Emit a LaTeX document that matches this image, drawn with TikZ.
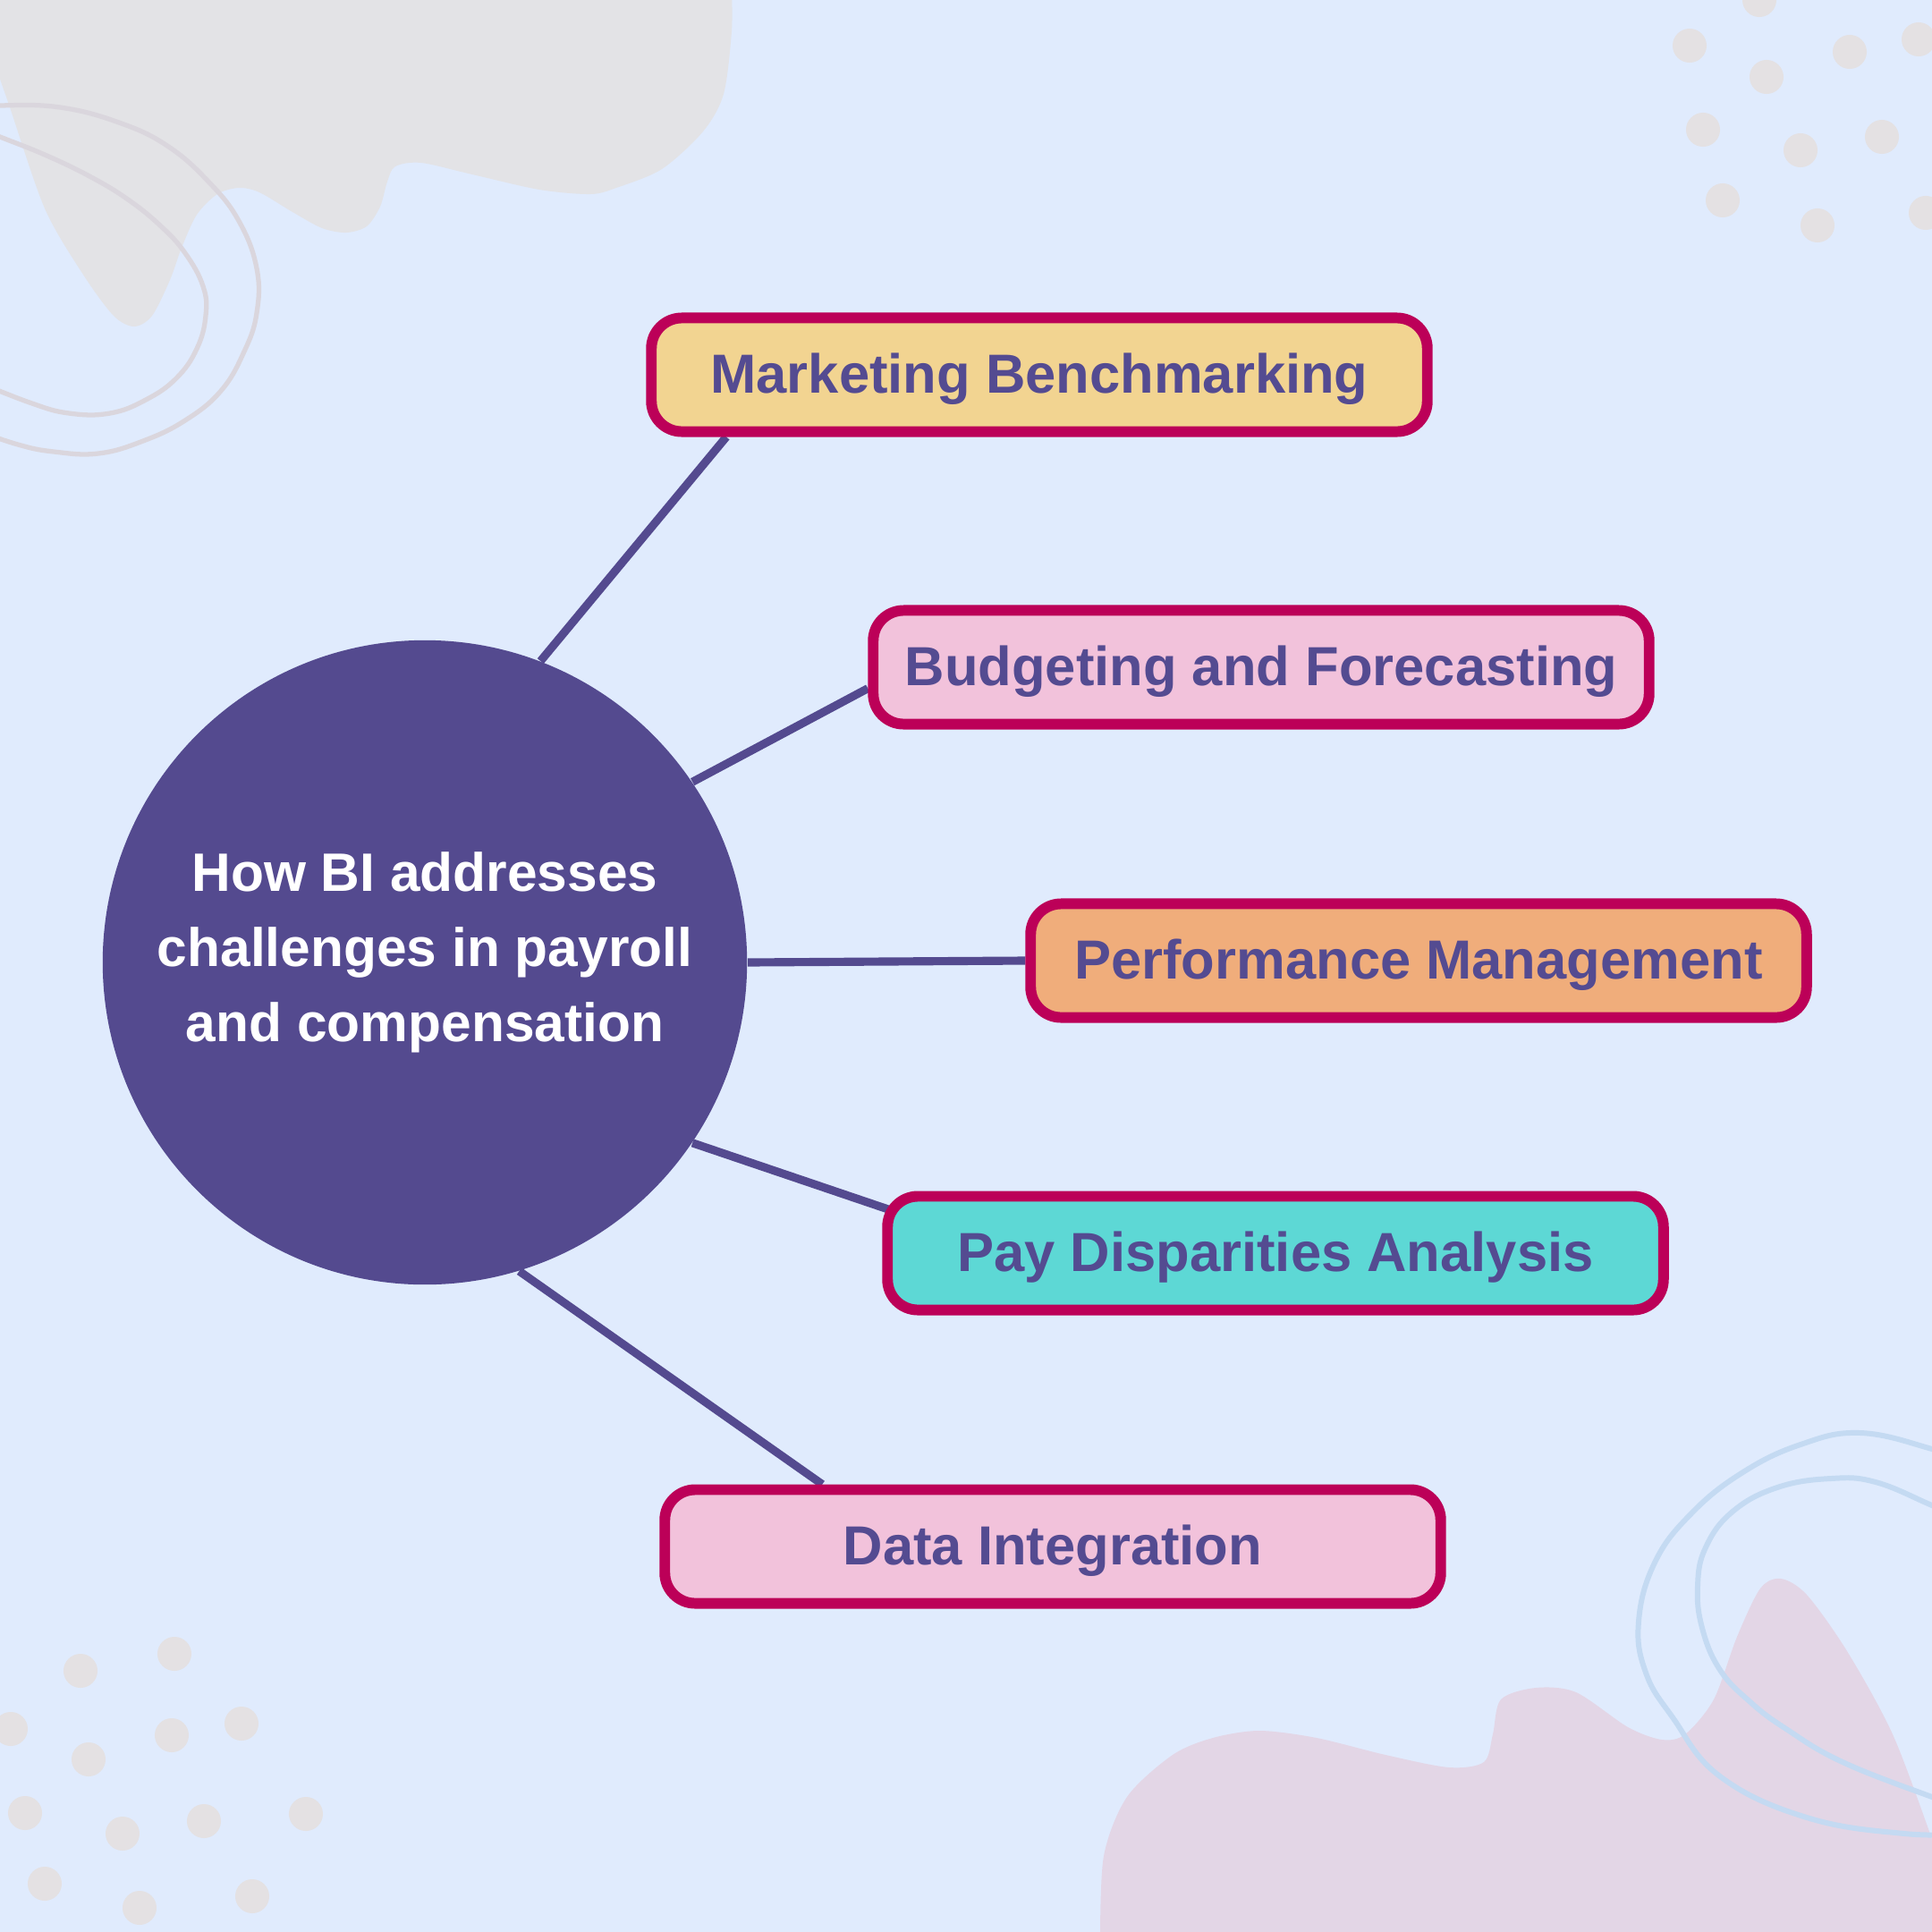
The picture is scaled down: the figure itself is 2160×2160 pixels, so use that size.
\documentclass[tikz,border=0pt]{standalone}
\usepackage{fontspec}
\setmainfont{Liberation Sans}
\usetikzlibrary{calc}
\definecolor{bgc}{HTML}{E0EBFD}
\definecolor{blobgrey}{HTML}{E3E3E6}
\definecolor{dotc}{HTML}{E4E1E3}
\definecolor{ringgrey}{HTML}{DAD6DD}
\definecolor{blobpink}{HTML}{E3D6E6}
\definecolor{ringblue}{HTML}{C4DAF2}
\definecolor{purp}{HTML}{544A8F}
\definecolor{bordc}{HTML}{BC0058}
\definecolor{txtc}{HTML}{544B91}
\definecolor{fyellow}{HTML}{F2D491}
\definecolor{fpink}{HTML}{F2C2DB}
\definecolor{forange}{HTML}{F0AD7B}
\definecolor{fteal}{HTML}{5DD8D5}
\pgfdeclarelayer{bg}
\pgfdeclarelayer{edges}
\pgfsetlayers{bg,edges,main}
\begin{document}
\begin{tikzpicture}[x=0.01cm,y=-0.01cm,
  topic/.style={draw=bordc, line width=3.4pt, rounded corners=0.34cm,
    minimum width=8.67cm, minimum height=1.27cm, inner sep=0pt, text=txtc,
    text height=14pt, text depth=2.6pt,
    font=\fontsize{17.5pt}{21pt}\selectfont\bfseries},
  hub/.style={circle, fill=purp, minimum size=7.2cm, inner sep=0pt},
  hubtext/.style={text=white, align=center, font=\fontsize{17.2pt}{23.9pt}\selectfont\bfseries},
  conn/.style={draw=purp, line width=2.6pt},
  dotty/.style={fill=dotc},
  greyring/.style={draw=ringgrey, line width=1.5pt},
  bluering/.style={draw=ringblue, line width=1.7pt}]
\useasboundingbox (0,0) rectangle (2160,2160);
\begin{pgfonlayer}{bg}
\clip (0,0) rectangle (2160,2160);
\fill[bgc] (0,0) rectangle (2160,2160);
% top-left blob
\fill[blobgrey] plot[smooth] coordinates {(818,-10) (818,35) (809,105) (786,147) (740,189) (689,210) (660,217) (603,212) (528,195) (471,182) (442,186) (433,203) (425,231) (410,253) (387,260) (360,255) (327,237) (290,215) (267,210) (243,217) (220,240) (203,277) (190,313) (170,353) (150,365) (127,353) (93,307) (50,233) (10,117) (-10,60)} -- (-10,-10) -- cycle;
\draw[greyring] plot[smooth, tension=0.7] coordinates {(-40,122) (0,118) (67,120) (133,137) (187,163) (233,203) (267,247) (287,300) (287,350) (273,393) (247,437) (207,470) (160,493) (110,507) (60,505) (20,497) (-30,480)};
\draw[greyring] plot[smooth, tension=0.7] coordinates {(-40,137) (0,153) (50,173) (100,197) (143,223) (180,253) (207,283) (227,320) (230,353) (220,390) (197,423) (163,447) (123,462) (77,462) (33,450) (-30,425)};
% bottom-right blob
\fill[blobpink] plot[smooth] coordinates {(1230,2170) (1234,2075) (1260,2009) (1311,1962) (1356,1943) (1408,1935) (1472,1943) (1549,1962) (1620,1976) (1659,1970) (1669,1939) (1678,1900) (1717,1887) (1762,1892) (1820,1931) (1858,1945) (1884,1939) (1916,1900) (1942,1830) (1968,1776) (1991,1765) (2020,1783) (2065,1846) (2116,1939) (2160,2056) (2175,2100)} -- (2175,2170) -- cycle;
\draw[bluering] plot[smooth, tension=0.7] coordinates {(2200,1635) (2160,1620) (2080,1602) (2013,1615) (1947,1647) (1890,1693) (1850,1747) (1832,1813) (1840,1870) (1870,1920) (1923,1986) (2020,2032) (2129,2050) (2200,2050)};
\draw[bluering] plot[smooth, tension=0.7] coordinates {(2200,1700) (2160,1683) (2097,1657) (2047,1653) (1987,1663) (1937,1690) (1907,1730) (1898,1773) (1903,1820) (1923,1867) (1957,1903) (1997,1933) (2060,1970) (2160,2009) (2200,2022)};
% dots
\foreach \p in {(1967,0),(1889,51),(2068,58),(2145,44),(1975,86),(1904,145),(2013,168),(2104,153),(1926,224),(2032,252),(2153,238),
  (90,1868),(195,1849),(12,1933),(192,1940),(270,1927),(99,1967),(28,2027),(137,2050),(228,2036),(342,2028),(50,2106),(156,2133),(282,2120)}
  \fill[dotty] \p circle (0.19cm);
\end{pgfonlayer}
% hub
\node[hub] (c) at (475,1076) {};
\node[hubtext] (ct) at (475,1065) {How BI addresses\\challenges in payroll\\and compensation};
% topics
\node[topic, fill=fyellow] (mb) at (1162,419) {Marketing Benchmarking};
\node[topic, fill=fpink] (bf) at (1410,746) {Budgeting and Forecasting};
\node[topic, fill=forange] (pm) at (1586,1074) {Performance Management};
\node[topic, fill=fteal] (pd) at (1426,1401) {Pay Disparities Analysis};
\node[topic, fill=fpink] (di) at (1177,1729) {Data Integration};
% connectors
\begin{pgfonlayer}{edges}
\draw[conn] (c.69.3) -- ($(mb.south west)!0.102!(mb.south east)$);
\draw[conn] (c.34.2) -- ($(bf.north west)!0.67!(bf.south west)$);
\draw[conn] (c.-0.5) -- (pm.west);
\draw[conn] (c.-34.3) -- ($(pd.north west)+(20,25)$);
\draw[conn] (c.-73.1) -- ($(di.north west)!0.207!(di.north east)$);
\end{pgfonlayer}
\end{tikzpicture}
\end{document}
